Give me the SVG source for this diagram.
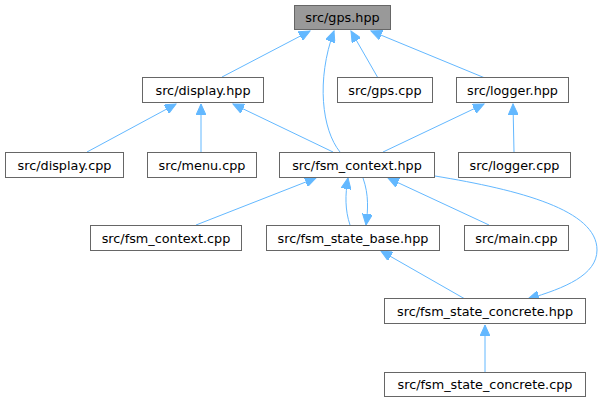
<svg xmlns="http://www.w3.org/2000/svg" width="600" height="403" viewBox="0 0 600 403">
<style>
.n rect{fill:#ffffff;stroke:#666666;stroke-width:1}
.n.root rect{fill:#999999}
.n text{font-family:"DejaVu Sans",sans-serif;font-size:12.8px;fill:#000000;text-anchor:middle}
.e path{fill:none;stroke:#63b8ff;stroke-width:1}
</style>
<defs>
<marker id="ah" markerUnits="userSpaceOnUse" markerWidth="12" markerHeight="10" refX="11" refY="5" orient="auto">
<path d="M0,0 L11,5 L0,10 z" fill="#63b8ff" stroke="#63b8ff" stroke-width="1"/>
</marker>
</defs>
<g id="edges" class="e">
<path d="M222,77 L310,31" marker-end="url(#ah)"/>
<path d="M340,152 C322,130 316,80 334,31" marker-end="url(#ah)"/>
<path d="M378,78 L351,31" marker-end="url(#ah)"/>
<path d="M485,78 L371,31" marker-end="url(#ah)"/>
<path d="M87,152 L176,104" marker-end="url(#ah)"/>
<path d="M201,152 L201,104" marker-end="url(#ah)"/>
<path d="M333,152 L233,104" marker-end="url(#ah)"/>
<path d="M383,152 L484,104" marker-end="url(#ah)"/>
<path d="M514,152 L513,104" marker-end="url(#ah)"/>
<path d="M196,225 L316,178" marker-end="url(#ah)"/>
<path d="M350,225 C345,210 345,195 348,178" marker-end="url(#ah)"/>
<path d="M363,178 C369,195 368,210 366,225" marker-end="url(#ah)"/>
<path d="M489,225 L388,178" marker-end="url(#ah)"/>
<path d="M435,176 C520,190 597,210 597,250 C597,275 565,288 528,299" marker-end="url(#ah)"/>
<path d="M465,299 L381,251" marker-end="url(#ah)"/>
<path d="M485,373 L485,325" marker-end="url(#ah)"/>
</g>
<g id="gps_hpp" class="n root"><rect x="294.5" y="5.5" width="96" height="24"/><text x="342.5" y="22">src/gps.hpp</text></g>
<g id="display_hpp" class="n"><rect x="142.5" y="77.5" width="121" height="25"/><text x="203" y="94.5">src/display.hpp</text></g>
<g id="gps_cpp" class="n"><rect x="337.5" y="77.5" width="95" height="25"/><text x="385" y="94.5">src/gps.cpp</text></g>
<g id="logger_hpp" class="n"><rect x="456.5" y="77.5" width="112" height="25"/><text x="512.5" y="94.5">src/logger.hpp</text></g>
<g id="display_cpp" class="n"><rect x="5.5" y="152.5" width="118" height="25"/><text x="64.5" y="169.5">src/display.cpp</text></g>
<g id="menu_cpp" class="n"><rect x="147.5" y="152.5" width="109" height="25"/><text x="202" y="169.5">src/menu.cpp</text></g>
<g id="fsm_context_hpp" class="n"><rect x="279.5" y="152.5" width="155" height="25"/><text x="357" y="169.5">src/fsm_context.hpp</text></g>
<g id="logger_cpp" class="n"><rect x="458.5" y="152.5" width="112" height="25"/><text x="514.5" y="169.5">src/logger.cpp</text></g>
<g id="fsm_context_cpp" class="n"><rect x="90.5" y="225.5" width="151" height="25"/><text x="166" y="242.5">src/fsm_context.cpp</text></g>
<g id="fsm_state_base_hpp" class="n"><rect x="266.5" y="225.5" width="173" height="25"/><text x="353" y="242.5">src/fsm_state_base.hpp</text></g>
<g id="main_cpp" class="n"><rect x="464.5" y="225.5" width="104" height="25"/><text x="516.5" y="242.5">src/main.cpp</text></g>
<g id="fsm_state_concrete_hpp" class="n"><rect x="384.5" y="298.5" width="201" height="25"/><text x="485" y="315.5">src/fsm_state_concrete.hpp</text></g>
<g id="fsm_state_concrete_cpp" class="n"><rect x="384.5" y="372.5" width="201" height="24"/><text x="485" y="389">src/fsm_state_concrete.cpp</text></g>
</svg>
